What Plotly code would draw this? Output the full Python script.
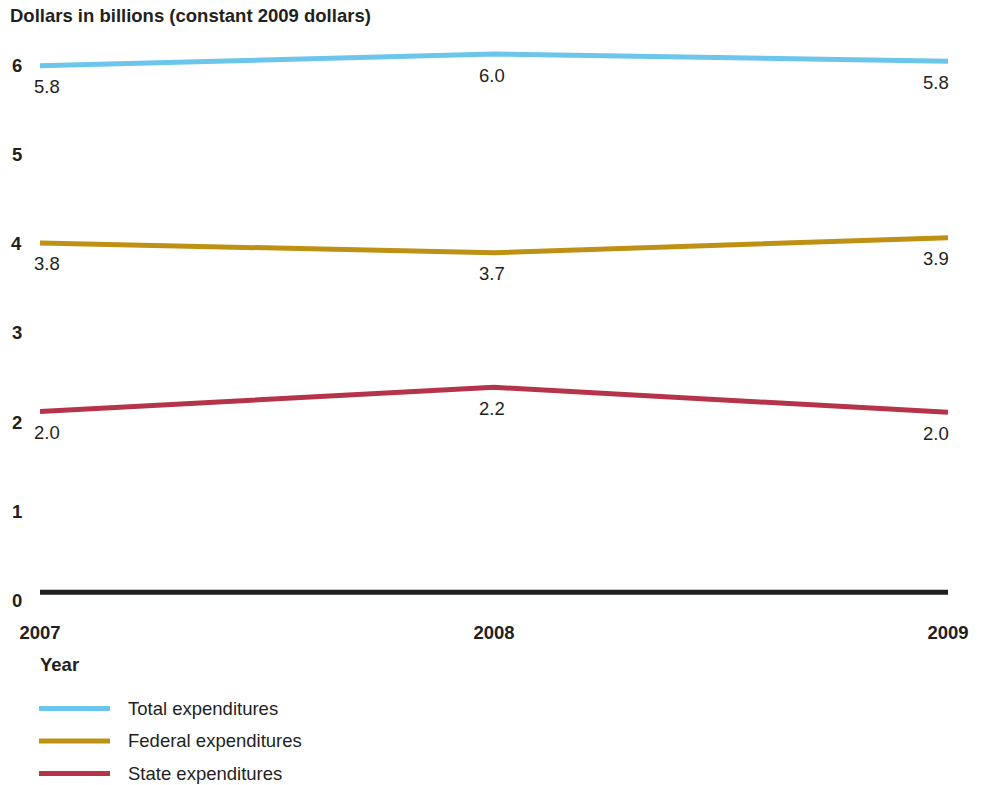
import plotly.graph_objects as go

years = [2007, 2008, 2009]
total = [5.91, 6.04, 5.96]
federal = [3.92, 3.81, 3.98]
state = [2.03, 2.30, 2.02]
total_labels = ["5.8", "6.0", "5.8"]
federal_labels = ["3.8", "3.7", "3.9"]
state_labels = ["2.0", "2.2", "2.0"]
series_names = ["Total expenditures", "Federal expenditures", "State expenditures"]
colors = ["#6CC5EB", "#BE9014", "#B5344A"]
y_ticks = [0, 1, 2, 3, 4, 5, 6]

W, H = 982, 785
L, R = 40, 34
Y_RANGE = [-0.3, 6.4]
PX_PER_UNIT = 89
T = 592 - Y_RANGE[1] * PX_PER_UNIT
B = H - (592 - Y_RANGE[0] * PX_PER_UNIT)
plot_h = H - T - B
plot_w = W - L - R

def px(xp):
    return (xp - L) / plot_w

def py(yp):
    return (H - B - yp) / plot_h

FONT = "Liberation Sans, Arial, Helvetica, sans-serif"
TXT = "#231F20"
FS = 18.5

fig = go.Figure()
all_vals = [total, federal, state]
all_labels = [total_labels, federal_labels, state_labels]

# baseline
fig.add_shape(type="line", xref="x", yref="y", x0=years[0] - 0.001, x1=years[-1] + 0.001,
              y0=0, y1=0, line=dict(color=TXT, width=5), layer="above")

for name, vals, col, labs in zip(series_names, all_vals, colors, all_labels):
    fig.add_trace(go.Scatter(x=years, y=vals, mode="lines", name=name,
                             line=dict(color=col, width=5), showlegend=False,
                             cliponaxis=False))
    for i, (xv, yv, t) in enumerate(zip(years, vals, labs)):
        if i == 0:
            xa, xs = "left", -8
        elif i == len(years) - 1:
            xa, xs = "right", 3
        else:
            xa, xs = "center", -2
        fig.add_annotation(x=xv, y=yv, xref="x", yref="y", text=t, showarrow=False,
                           xanchor=xa, yanchor="middle", xshift=xs, yshift=-21,
                           font=dict(family=FONT, size=FS, color=TXT))

# y tick labels
for v in y_ticks:
    fig.add_annotation(x=px(24), xref="paper", y=v, yref="y", text=f"<b>{v}</b>",
                       showarrow=False, xanchor="right", yanchor="middle", yshift=-8,
                       font=dict(family=FONT, size=FS, color=TXT))

# title
fig.add_annotation(x=px(8), y=py(16), xref="paper", yref="paper",
                   text="<b>Dollars in billions (constant 2009 dollars)</b>",
                   showarrow=False, xanchor="left", yanchor="middle",
                   font=dict(family=FONT, size=FS, color=TXT))

# axis title
fig.add_annotation(x=px(38), y=py(664), xref="paper", yref="paper", text="<b>Year</b>",
                   showarrow=False, xanchor="left", yanchor="middle",
                   font=dict(family=FONT, size=FS, color=TXT))

# legend
for k, (name, col) in enumerate(zip(series_names, colors)):
    yy = 708 + k * 32.5
    fig.add_shape(type="line", xref="paper", yref="paper", x0=px(39), x1=px(110),
                  y0=py(yy), y1=py(yy), line=dict(color=col, width=5))
    fig.add_annotation(x=px(126), y=py(yy), xref="paper", yref="paper", text=name,
                       showarrow=False, xanchor="left", yanchor="middle",
                       font=dict(family=FONT, size=FS, color=TXT))

fig.update_layout(
    width=W, height=H,
    margin=dict(l=L, r=R, t=T, b=B, pad=0),
    paper_bgcolor="white", plot_bgcolor="white",
    font=dict(family=FONT, color=TXT),
    xaxis=dict(range=[years[0], years[-1]], tickvals=years,
               ticktext=[f"<b>{y}</b>" for y in years], showgrid=False, zeroline=False,
               showline=False, ticks="", tickfont=dict(family=FONT, size=FS, color=TXT),
               ticklabelstandoff=0),
    yaxis=dict(range=Y_RANGE, showgrid=False, zeroline=False, showline=False,
               showticklabels=False, ticks=""),
    showlegend=False,
)

fig.write_html("out.html")
